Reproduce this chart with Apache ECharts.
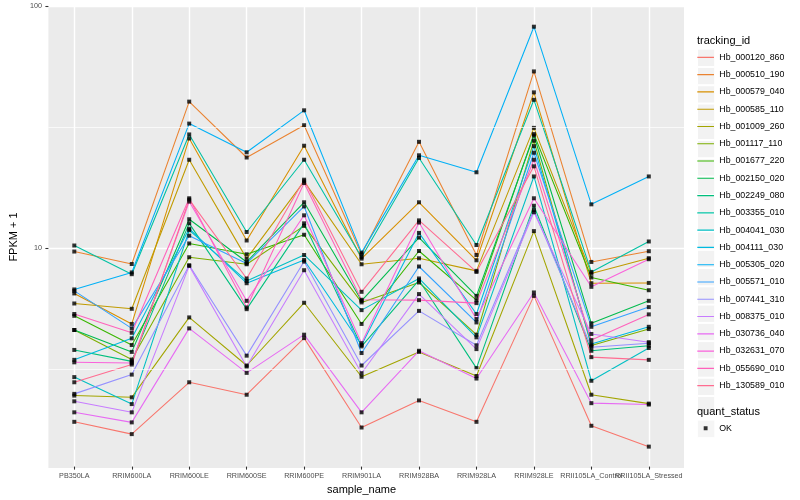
<!DOCTYPE html>
<html><head><meta charset="utf-8">
<script src="https://cdn.jsdelivr.net/npm/echarts@6/dist/echarts.min.js"></script>
<style>html,body{margin:0;padding:0;background:#fff}#c{width:800px;height:500px}</style>
</head><body><div id="c"></div>
<script>
const categories = ['PB350LA','RRIM600LA','RRIM600LE','RRIM600SE','RRIM600PE','RRIM901LA','RRIM928BA','RRIM928LA','RRIM928LE','RRII105LA_Control','RRII105LA_Stressed'];
const trackingIds = ['Hb_000120_860','Hb_000510_190','Hb_000579_040','Hb_000585_110','Hb_001009_260','Hb_001117_110','Hb_001677_220','Hb_002150_020','Hb_002249_080','Hb_003355_010','Hb_004041_030','Hb_004111_030','Hb_005305_020','Hb_005571_010','Hb_007441_310','Hb_008375_010','Hb_030736_040','Hb_032631_070','Hb_055690_010','Hb_130589_010'];
const colors = ['#F8766D','#EA8331','#D89000','#C09B00','#A3A500','#7CAE00','#39B600','#00BB4E','#00BF7D','#00C1A3','#00BFC4','#00BAE0','#00B0F6','#35A2FF','#9590FF','#C77CFF','#E76BF3','#FA62DB','#FF62BC','#FF6C91'];

const Hb_000120_860 = [1.90, 1.69, 2.77, 2.46, 4.22, 1.80, 2.33, 1.90, 6.31, 1.83, 1.50];
const Hb_000510_190 = [9.63, 8.55, 40.2, 23.6, 32.1, 9.38, 27.4, 9.32, 53.6, 8.72, 9.66];
const Hb_000579_040 = [6.46, 4.83, 28.3, 10.7, 26.4, 9.0, 15.4, 8.86, 43.9, 7.12, 7.14];
const Hb_000585_110 = [5.87, 5.58, 23.1, 9.0, 18.8, 8.53, 9.03, 8.01, 31.3, 7.81, 9.04];
const Hb_001009_260 = [2.44, 2.40, 5.14, 3.25, 5.91, 2.92, 3.70, 2.94, 11.7, 2.46, 2.26];
const Hb_001117_110 = [4.56, 3.44, 9.12, 8.53, 12.3, 5.93, 7.17, 4.36, 27.7, 3.93, 4.60];
const Hb_001677_220 = [5.22, 3.95, 10.4, 9.38, 11.3, 4.83, 9.68, 6.06, 29.5, 7.52, 6.66];
const Hb_002150_020 = [4.56, 3.70, 13.1, 8.72, 15.4, 6.02, 11.0, 6.31, 29.1, 4.86, 6.02];
const Hb_002249_080 = [3.77, 3.38, 12.6, 5.56, 12.6, 3.90, 7.33, 3.17, 14.9, 3.74, 3.92];
const Hb_003355_010 = [10.2, 7.76, 29.4, 11.6, 23.1, 9.12, 23.5, 10.25, 40.9, 7.93, 10.6];
const Hb_004041_030 = [2.91, 2.25, 11.8, 7.28, 9.32, 5.51, 7.45, 4.25, 19.7, 2.81, 3.84];
const Hb_004111_030 = [3.43, 4.21, 11.97, 7.12, 8.89, 3.95, 11.5, 5.31, 26.3, 3.99, 4.70];
const Hb_005305_020 = [6.71, 7.89, 32.6, 24.8, 37.0, 9.53, 24.1, 20.5, 82.1, 15.1, 19.7];
const Hb_005571_010 = [6.62, 4.63, 11.2, 8.6, 14.8, 3.66, 8.35, 4.90, 24.7, 4.70, 5.67];
const Hb_007441_310 = [2.48, 2.98, 8.45, 3.57, 8.75, 3.25, 5.47, 3.94, 14.3, 3.87, 4.02];
const Hb_008375_010 = [2.31, 2.08, 8.40, 3.22, 8.06, 3.02, 6.42, 3.80, 14.0, 4.39, 4.06];
const Hb_030736_040 = [2.08, 1.89, 4.63, 3.03, 4.36, 2.08, 3.74, 2.87, 6.52, 2.27, 2.24];
const Hb_032631_070 = [3.35, 3.33, 15.5, 6.02, 13.6, 4.02, 12.7, 5.06, 16.0, 6.88, 8.95];
const Hb_055690_010 = [5.31, 4.44, 16.0, 5.65, 18.5, 6.08, 6.06, 5.89, 23.1, 4.14, 5.29];
const Hb_130589_010 = [2.77, 3.28, 15.8, 7.45, 19.1, 6.56, 12.96, 7.93, 21.7, 3.52, 3.43];

const seriesValues = [Hb_000120_860, Hb_000510_190, Hb_000579_040, Hb_000585_110, Hb_001009_260, Hb_001117_110, Hb_001677_220, Hb_002150_020, Hb_002249_080, Hb_003355_010, Hb_004041_030, Hb_004111_030, Hb_005305_020, Hb_005571_010, Hb_007441_310, Hb_008375_010, Hb_030736_040, Hb_032631_070, Hb_055690_010, Hb_130589_010];

const yMajorTicks = [10, 100];
const yMinorBreaks = [3.1623, 31.623];
const yMin = 1.24, yMax = 100;

const FONT = 'Liberation Sans, Arial, Helvetica, sans-serif';
const lineIcon = 'path://M0,0 L0,0 Z M17,17 L17,17 Z M0.3,8 L16.7,8 L16.7,9.1 L0.3,9.1 Z';
const pointIcon = 'path://M0,0 L0,0 Z M17,17 L17,17 Z M6.6,6.6 L10.4,6.6 L10.4,10.4 L6.6,10.4 Z';

const lineSeries = trackingIds.map((id, k) => ({
  type: 'line', name: id, xAxisIndex: 1, yAxisIndex: 1,
  data: seriesValues[k], symbol: 'none', color: colors[k],
  lineStyle: { width: 1.07, color: colors[k] }, itemStyle: { color: colors[k] },
  emphasis: { disabled: true }, silent: true, z: 3
}));
const pointData = [];
seriesValues.forEach(arr => arr.forEach((v, i) => pointData.push([i, v])));

const legendBase = { orient: 'vertical', left: 697, padding: 0, itemWidth: 17.28, itemHeight: 17.28, itemGap: 0 };

const option = {
  animation: false,
  backgroundColor: '#ffffff',
  textStyle: { fontFamily: FONT },
  title: [
    { text: 'tracking_id', left: 697, top: 35, padding: 0, textStyle: { fontSize: 11, fontWeight: 'normal', color: '#000', fontFamily: FONT } },
    { text: 'quant_status', left: 697, top: 406, padding: 0, textStyle: { fontSize: 11, fontWeight: 'normal', color: '#000', fontFamily: FONT } }
  ],
  legend: [
    Object.assign({}, legendBase, { top: 48.66, data: trackingIds, icon: 'rect', selectedMode: false,
      itemStyle: { color: '#F2F2F2', borderColor: '#ffffff', borderWidth: 1 }, formatter: () => '' }),
    Object.assign({}, legendBase, { top: 48.66, data: trackingIds, icon: lineIcon,
      itemStyle: { borderWidth: 0 }, textStyle: { fontSize: 8.8, color: '#000', fontFamily: FONT } }),
    Object.assign({}, legendBase, { top: 419.66, data: ['OK'], icon: 'rect', selectedMode: false,
      itemStyle: { color: '#F2F2F2', borderColor: '#ffffff', borderWidth: 1 }, formatter: () => '' }),
    Object.assign({}, legendBase, { top: 419.66, data: ['OK'], icon: pointIcon,
      itemStyle: { borderWidth: 0, color: '#000' }, textStyle: { fontSize: 8.8, color: '#000', fontFamily: FONT } })
  ],
  grid: [
    { left: 40, top: 6, width: 644, height: 462, show: true, backgroundColor: '#EBEBEB', borderWidth: 0 },
    { left: 45.58, top: 6, width: 631.95, height: 462, show: false }
  ],
  xAxis: [
    { gridIndex: 0, type: 'value', min: 0, max: 1, show: false },
    { gridIndex: 1, type: 'category', data: categories, boundaryGap: true,
      axisLine: { show: false },
      axisTick: { show: true, interval: 0, alignWithLabel: true, length: 3, lineStyle: { color: '#333333', width: 1.07 } },
      axisLabel: { interval: 0, fontSize: 7.2, color: '#4D4D4D', margin: 5.5, fontFamily: FONT },
      splitLine: { show: true, interval: 0, alignWithLabel: true, lineStyle: { color: '#ffffff', width: 1.4 } },
      name: 'sample_name', nameLocation: 'middle', nameGap: 16,
      nameTextStyle: { fontSize: 11, color: '#000', fontFamily: FONT } }
  ],
  yAxis: [
    { gridIndex: 0, type: 'log', logBase: 10, min: yMin, max: yMax,
      axisLine: { show: false },
      axisTick: { show: true, length: 3, customValues: yMajorTicks, lineStyle: { color: '#333333', width: 1.07 } },
      axisLabel: { fontSize: 7.2, color: '#4D4D4D', margin: 6.5, fontFamily: FONT, customValues: yMajorTicks,
        formatter: v => { for (const t of yMajorTicks) { if (Math.abs(v - t) / t < 1e-6) return String(t); } return ''; } },
      splitLine: { show: true, lineStyle: { color: '#ffffff', width: 1.4 } },
      name: 'FPKM + 1', nameLocation: 'middle', nameGap: 22.5,
      nameTextStyle: { fontSize: 11, color: '#000', fontFamily: FONT } },
    { gridIndex: 1, type: 'log', logBase: 10, min: yMin, max: yMax, show: false }
  ],
  series: [
    { type: 'line', name: '_minor', xAxisIndex: 0, yAxisIndex: 0, data: [[0, 10], [1, 10]], symbol: 'none',
      lineStyle: { opacity: 0 }, silent: true, z: 1,
      markLine: { silent: true, symbol: ['none', 'none'], label: { show: false }, animation: false,
        lineStyle: { color: '#ffffff', width: 0.7, type: 'solid' }, emphasis: { disabled: true },
        data: yMinorBreaks.map(v => ({ yAxis: v })) } }
  ].concat(lineSeries).concat([
    { type: 'scatter', name: 'OK', xAxisIndex: 1, yAxisIndex: 1, data: pointData,
      symbol: 'rect', symbolSize: 4, itemStyle: { color: '#000000' }, silent: true, z: 4 }
  ])
};
const chart = echarts.init(document.getElementById('c'), null, { renderer: 'canvas' });
chart.setOption(option);
</script></body></html>
